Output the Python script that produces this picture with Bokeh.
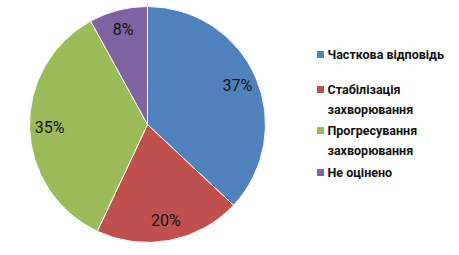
import math
from bokeh.plotting import figure
from bokeh.models import Range1d, ColumnDataSource
from bokeh.core.properties import value
from bokeh.embed import file_html
from bokeh.resources import INLINE

categories = ["Часткова відповідь", "Стабілізація\nзахворювання", "Прогресування\nзахворювання", "Не оцінено"]
percents = [37, 20, 35, 8]
colors = ["#4F81BD", "#C0504D", "#9BBB59", "#8064A2"]

W, H = 459, 255
cx, cy, r = 147, 131, 118

p = figure(width=W, height=H, x_range=Range1d(0, W), y_range=Range1d(0, H),
           output_backend="svg", toolbar_location=None, min_border=0)
p.axis.visible = False
p.grid.visible = False
p.outline_line_color = None
p.background_fill_color = "white"
p.border_fill_color = "white"

total = sum(percents)
starts, ends, lx, ly, labels = [], [], [], [], []
acc = 0
for v in percents:
    a0 = math.pi / 2 - 2 * math.pi * acc / total
    a1 = math.pi / 2 - 2 * math.pi * (acc + v) / total
    starts.append(a0)
    ends.append(a1)
    mid = (a0 + a1) / 2
    lx.append(cx + 0.83 * r * math.cos(mid))
    ly.append(cy + 0.83 * r * math.sin(mid))
    labels.append(f"{v}%")
    acc += v

src = ColumnDataSource(dict(start=starts, end=ends, color=colors, lx=lx, ly=ly, label=labels))
p.wedge(x=cx, y=cy, radius=r, start_angle="start", end_angle="end", direction="clock",
        fill_color="color", line_color="white", line_width=1, source=src)
p.text(x="lx", y="ly", text="label", source=src, text_font=value("Roboto"),
       text_font_size="16px", text_color="#111111", text_align="center", text_baseline="middle")

# legend
leg_y = [201, 166, 125, 83]
leg_src = ColumnDataSource(dict(y=leg_y, ty=[v + 8 for v in leg_y], color=colors, label=categories))
p.rect(x=320, y="y", width=7, height=7, fill_color="color", line_color=None, source=leg_src)
p.text(x=327, y="ty", text="label", source=leg_src, text_font=value("Roboto"),
       text_font_style="bold", text_font_size="12.5px", text_color="#111111",
       text_align="left", text_baseline="top", text_line_height=1.35)

open("out.html", "w").write(file_html(p, INLINE))
